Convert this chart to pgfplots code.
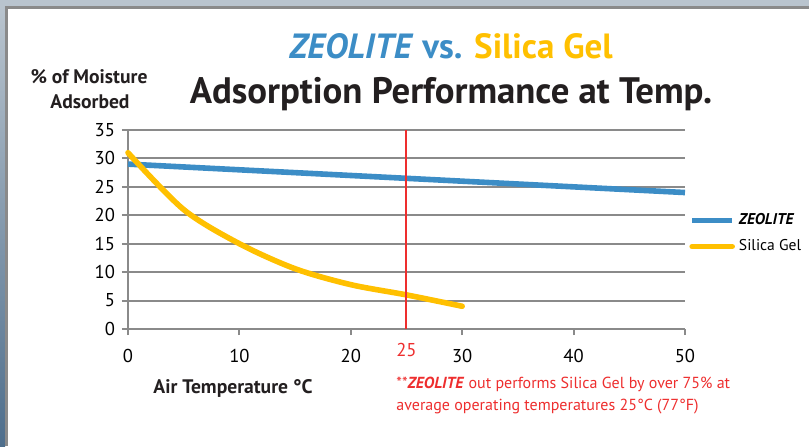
\documentclass[border=0pt]{standalone}
\usepackage{pgfplots}
\pgfplotsset{compat=1.18}
\usepackage{fontspec}
\setmainfont{PT Sans}
\definecolor{zblue}{HTML}{3C8DC6}
\definecolor{sgold}{HTML}{FFC000}
\definecolor{zred}{HTML}{EE2E2E}
\definecolor{gridgray}{HTML}{8A8A8A}
\definecolor{framebg}{HTML}{B9C4CE}
\definecolor{frameleft}{HTML}{4E6E8C}
\definecolor{ttext}{HTML}{231F20}
\begin{document}
\begin{tikzpicture}[x=0.5pt,y=0.5pt]
\path[use as bounding box] (0,0) rectangle (809,446);
\fill[white] (0,0) rectangle (809,446);
\fill[framebg] (0,440) rectangle (809,446);
\fill[gridgray] (5,437) rectangle (809,440);
\shade[bottom color=frameleft, top color=framebg] (0,0) rectangle (5,440);
\fill[gridgray] (5,0) rectangle (8,440);
% titles
\node[anchor=base, inner sep=0pt, font=\fontsize{17.5}{20}\selectfont\bfseries] at (451,388)
  {\textcolor{zblue}{\textit{ZEOLITE} vs.} \textcolor{sgold}{Silica Gel}};
\node[anchor=base, inner sep=0pt, text=ttext, font=\fontsize{18.4}{21}\selectfont\bfseries] at (451,343)
  {Adsorption Performance at Temp.};
\node[anchor=base, inner sep=0pt, text=ttext, font=\fontsize{9.8}{11}\selectfont\bfseries] at (89,363) {\% of Moisture};
\node[anchor=base, inner sep=0pt, text=ttext, font=\fontsize{9.8}{11}\selectfont\bfseries] at (90,338) {Adsorbed};
\node[anchor=base, inner sep=0pt, text=ttext, font=\fontsize{9.8}{11}\selectfont\bfseries] at (233,53) {Air Temperature °C};
\node[anchor=base west, inner sep=0pt, text=zred, font=\fontsize{8}{9}\selectfont] at (396,58) {**\textbf{\textit{ZEOLITE}} out performs Silica Gel by over 75\% at};
\node[anchor=base west, inner sep=0pt, text=zred, font=\fontsize{8}{9}\selectfont] at (396,36) {average operating temperatures 25°C (77°F)};
\begin{axis}[
  at={(64pt,58.5pt)}, anchor=south west,
  scale only axis, width=278.5pt, height=99.5pt,
  xmin=0, xmax=50, ymin=0, ymax=35,
  xtick={0,10,20,30,40,50}, ytick={0,5,...,35},
  extra x ticks={25},
  extra x tick style={grid=none, major tick length=0pt, tick label style={text=zred}},
  axis x line*=bottom, axis y line*=left,
  axis line style={gridgray, line width=1pt, -},
  ymajorgrids, grid style={gridgray, line width=1pt},
  tick style={gridgray, line width=1pt},
  major tick length=3pt, tick align=outside,
  tick label style={font=\fontsize{9.3}{11}\selectfont, text=black},
  xticklabel style={yshift=-3.5pt},
  /pgf/number format/assume math mode=true,
  legend style={draw=none, fill=none, at={(1,0.48)}, anchor=west, xshift=2pt,
    font=\fontsize{7.8}{9}\selectfont, row sep=2pt, inner sep=0pt},
  legend cell align=left,
  legend image code/.code={\draw[#1] (0pt,0pt) -- (20pt,0pt);},
  clip=false,
]
\addplot[zblue, line width=2.8pt] coordinates {(0,29) (10,28) (20,27) (25,26.5) (30,26) (40,25) (50,24)};
\addlegendentry{\textbf{\textit{ZEOLITE}}}
\addplot[sgold, line width=2.8pt, smooth, line cap=round] coordinates {(0,31) (5,21) (10,15) (15,10.6) (20,7.8) (25,6) (30,4)};
\addlegendentry{Silica Gel}
\draw[zred, line width=1pt] (axis cs:25,0) -- (axis cs:25,35);
\end{axis}
\end{tikzpicture}
\end{document}
